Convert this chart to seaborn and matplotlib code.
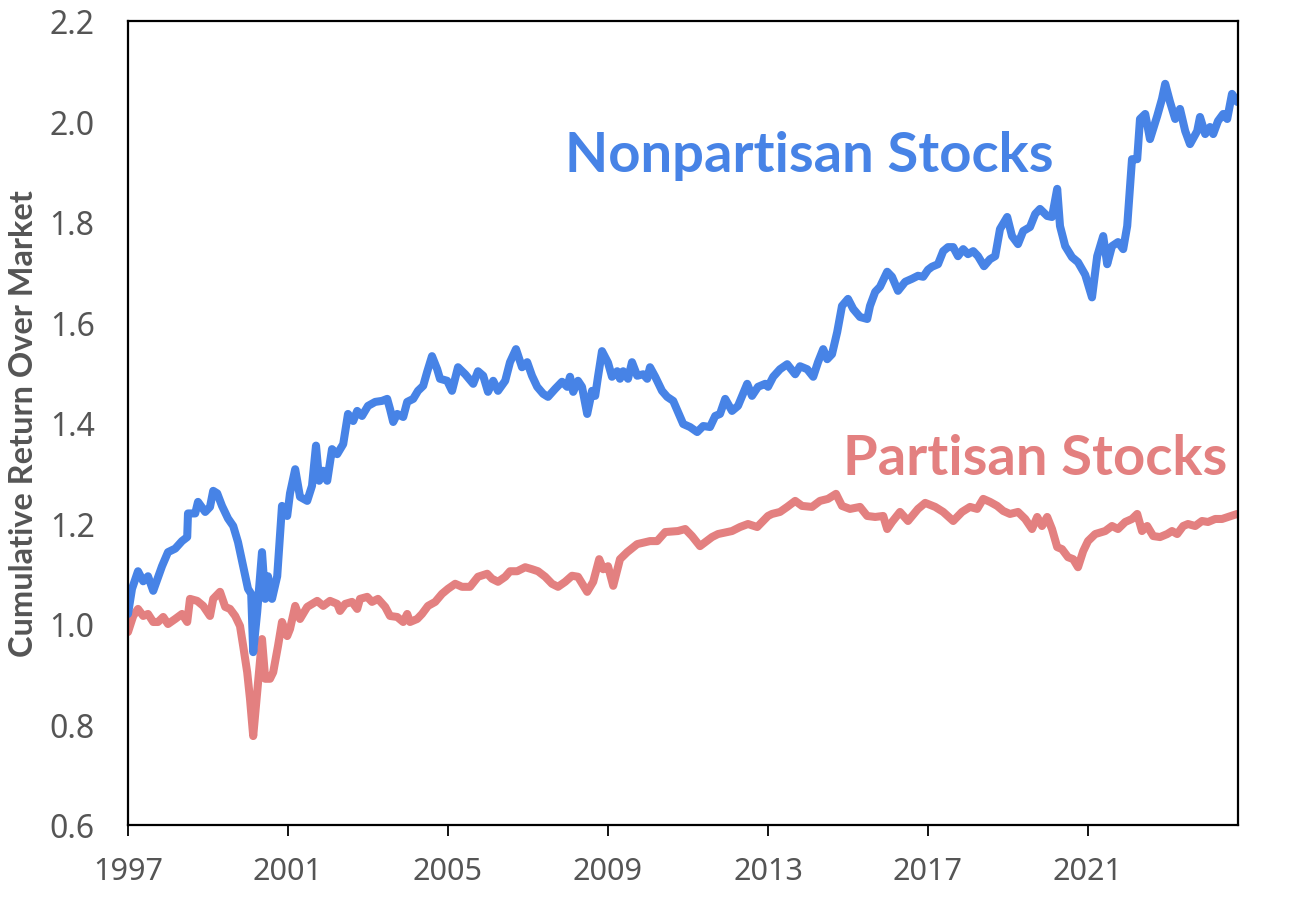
import matplotlib
matplotlib.use("Agg")
import matplotlib.pyplot as plt
import seaborn as sns
import pandas as pd

# ---- data ----
nonpartisan_years = [
    1997.00, 1997.10, 1997.25, 1997.38, 1997.50, 1997.63, 1997.85, 1998.00, 1998.18, 1998.35,
    1998.48, 1998.50, 1998.68, 1998.75, 1998.93, 1999.05, 1999.13, 1999.23, 1999.35, 1999.50,
    1999.63, 1999.75, 1999.88, 2000.00, 2000.08, 2000.13, 2000.23, 2000.35, 2000.43, 2000.50,
    2000.60, 2000.73, 2000.85, 2000.98, 2001.05, 2001.18, 2001.30, 2001.48, 2001.60, 2001.70,
    2001.78, 2001.88, 2001.98, 2002.10, 2002.23, 2002.38, 2002.50, 2002.63, 2002.73, 2002.85,
    2003.00, 2003.18, 2003.35, 2003.48, 2003.55, 2003.63, 2003.73, 2003.88, 2003.98, 2004.13,
    2004.25, 2004.38, 2004.48, 2004.60, 2004.73, 2004.80, 2004.98, 2005.10, 2005.25, 2005.43,
    2005.63, 2005.75, 2005.88, 2006.00, 2006.13, 2006.25, 2006.43, 2006.55, 2006.70, 2006.85,
    2006.98, 2007.10, 2007.23, 2007.38, 2007.50, 2007.68, 2007.85, 2007.98, 2008.05, 2008.13,
    2008.25, 2008.35, 2008.48, 2008.60, 2008.68, 2008.75, 2008.85, 2009.00, 2009.10, 2009.23,
    2009.30, 2009.38, 2009.50, 2009.60, 2009.73, 2009.88, 2009.98, 2010.05, 2010.18, 2010.35,
    2010.48, 2010.63, 2010.75, 2010.88, 2011.05, 2011.23, 2011.38, 2011.55, 2011.68, 2011.80,
    2011.93, 2012.10, 2012.25, 2012.48, 2012.60, 2012.75, 2012.93, 2013.00, 2013.13, 2013.30,
    2013.48, 2013.68, 2013.80, 2013.98, 2014.13, 2014.25, 2014.38, 2014.48, 2014.60, 2014.73,
    2014.85, 2015.00, 2015.13, 2015.30, 2015.48, 2015.55, 2015.68, 2015.80, 2015.98, 2016.10,
    2016.25, 2016.43, 2016.60, 2016.75, 2016.88, 2017.00, 2017.10, 2017.25, 2017.38, 2017.50,
    2017.63, 2017.75, 2017.88, 2018.00, 2018.13, 2018.25, 2018.40, 2018.55, 2018.68, 2018.80,
    2018.98, 2019.10, 2019.25, 2019.38, 2019.55, 2019.68, 2019.80, 2019.98, 2020.10, 2020.23,
    2020.30, 2020.43, 2020.60, 2020.75, 2020.93, 2021.10, 2021.23, 2021.38, 2021.48, 2021.60,
    2021.75, 2021.88, 2021.98, 2022.10, 2022.23, 2022.30, 2022.43, 2022.55, 2022.73, 2022.85,
    2022.93, 2023.05, 2023.18, 2023.30, 2023.43, 2023.55, 2023.73, 2023.80, 2023.93, 2024.05,
    2024.13, 2024.25, 2024.38, 2024.48, 2024.60, 2024.73,
]
nonpartisan_values = [
    1.020, 1.070, 1.105, 1.085, 1.095, 1.066, 1.115, 1.143, 1.150, 1.165,
    1.173, 1.220, 1.220, 1.243, 1.223, 1.233, 1.265, 1.260, 1.235, 1.210,
    1.195, 1.163, 1.115, 1.070, 1.060, 0.944, 1.024, 1.143, 1.050, 1.095,
    1.050, 1.095, 1.235, 1.215, 1.260, 1.308, 1.253, 1.245, 1.275, 1.355,
    1.285, 1.305, 1.285, 1.348, 1.338, 1.358, 1.418, 1.404, 1.424, 1.414,
    1.434, 1.442, 1.444, 1.448, 1.428, 1.402, 1.418, 1.412, 1.442, 1.448,
    1.464, 1.474, 1.502, 1.533, 1.507, 1.488, 1.484, 1.464, 1.511, 1.497,
    1.478, 1.503, 1.494, 1.462, 1.484, 1.464, 1.484, 1.521, 1.547, 1.511,
    1.521, 1.494, 1.472, 1.458, 1.452, 1.468, 1.482, 1.472, 1.492, 1.462,
    1.484, 1.472, 1.418, 1.464, 1.454, 1.492, 1.543, 1.520, 1.492, 1.503,
    1.488, 1.503, 1.488, 1.521, 1.494, 1.497, 1.488, 1.511, 1.492, 1.464,
    1.452, 1.444, 1.422, 1.398, 1.392, 1.382, 1.394, 1.392, 1.414, 1.418,
    1.448, 1.424, 1.434, 1.478, 1.454, 1.472, 1.478, 1.472, 1.492, 1.507,
    1.517, 1.497, 1.513, 1.507, 1.492, 1.521, 1.547, 1.527, 1.537, 1.581,
    1.633, 1.647, 1.627, 1.611, 1.607, 1.633, 1.661, 1.671, 1.701, 1.691,
    1.663, 1.681, 1.687, 1.693, 1.691, 1.705, 1.711, 1.716, 1.742, 1.750,
    1.750, 1.732, 1.746, 1.736, 1.742, 1.732, 1.712, 1.726, 1.732, 1.786,
    1.810, 1.772, 1.756, 1.782, 1.790, 1.816, 1.826, 1.812, 1.810, 1.866,
    1.792, 1.752, 1.730, 1.720, 1.695, 1.650, 1.732, 1.772, 1.716, 1.752,
    1.760, 1.746, 1.792, 1.925, 1.925, 2.005, 2.015, 1.965, 2.011, 2.045,
    2.075, 2.039, 2.005, 2.025, 1.981, 1.955, 1.981, 2.009, 1.975, 1.989,
    1.975, 2.001, 2.015, 2.005, 2.055, 2.039,
]

partisan_years = [
    1997.00, 1997.13, 1997.25, 1997.38, 1997.50, 1997.63, 1997.75, 1997.88, 1998.00, 1998.18,
    1998.35, 1998.48, 1998.55, 1998.73, 1998.88, 1999.05, 1999.13, 1999.30, 1999.43, 1999.55,
    1999.68, 1999.80, 1999.88, 1999.98, 2000.05, 2000.13, 2000.23, 2000.35, 2000.43, 2000.55,
    2000.63, 2000.75, 2000.85, 2000.98, 2001.05, 2001.18, 2001.30, 2001.48, 2001.73, 2001.88,
    2002.05, 2002.23, 2002.30, 2002.43, 2002.60, 2002.73, 2002.80, 2002.98, 2003.10, 2003.25,
    2003.43, 2003.55, 2003.73, 2003.88, 2003.98, 2004.05, 2004.23, 2004.35, 2004.50, 2004.68,
    2004.85, 2005.00, 2005.18, 2005.35, 2005.55, 2005.75, 2005.98, 2006.10, 2006.25, 2006.43,
    2006.55, 2006.73, 2006.93, 2007.10, 2007.25, 2007.43, 2007.60, 2007.75, 2007.93, 2008.10,
    2008.25, 2008.48, 2008.63, 2008.78, 2008.88, 2009.00, 2009.13, 2009.30, 2009.48, 2009.73,
    2010.05, 2010.23, 2010.43, 2010.75, 2010.93, 2011.10, 2011.30, 2011.60, 2011.75, 2012.10,
    2012.30, 2012.50, 2012.73, 2013.00, 2013.10, 2013.30, 2013.48, 2013.68, 2013.85, 2014.10,
    2014.30, 2014.50, 2014.70, 2014.85, 2015.05, 2015.30, 2015.48, 2015.68, 2015.88, 2015.98,
    2016.10, 2016.30, 2016.50, 2016.75, 2016.93, 2017.18, 2017.38, 2017.63, 2017.85, 2018.05,
    2018.23, 2018.38, 2018.55, 2018.73, 2018.88, 2019.05, 2019.25, 2019.43, 2019.60, 2019.73,
    2019.85, 2019.98, 2020.10, 2020.23, 2020.35, 2020.50, 2020.63, 2020.75, 2020.88, 2021.00,
    2021.18, 2021.43, 2021.60, 2021.75, 2021.93, 2022.10, 2022.23, 2022.35, 2022.48, 2022.63,
    2022.80, 2022.98, 2023.10, 2023.23, 2023.38, 2023.50, 2023.68, 2023.85, 2024.00, 2024.18,
    2024.35, 2024.50, 2024.73,
]
partisan_values = [
    0.984, 1.016, 1.030, 1.016, 1.020, 1.004, 1.004, 1.014, 1.000, 1.010,
    1.020, 1.004, 1.050, 1.046, 1.036, 1.016, 1.050, 1.064, 1.034, 1.030,
    1.016, 0.996, 0.956, 0.904, 0.851, 0.777, 0.865, 0.970, 0.891, 0.891,
    0.904, 0.956, 1.004, 0.976, 0.990, 1.036, 1.010, 1.034, 1.046, 1.036,
    1.046, 1.040, 1.026, 1.040, 1.044, 1.030, 1.050, 1.054, 1.044, 1.050,
    1.034, 1.016, 1.014, 1.004, 1.020, 1.004, 1.010, 1.020, 1.036, 1.044,
    1.060, 1.070, 1.080, 1.074, 1.074, 1.094, 1.100, 1.090, 1.084, 1.094,
    1.105, 1.105, 1.113, 1.109, 1.105, 1.094, 1.080, 1.074, 1.084, 1.096,
    1.094, 1.064, 1.084, 1.129, 1.109, 1.115, 1.076, 1.129, 1.143, 1.159,
    1.165, 1.165, 1.183, 1.185, 1.189, 1.175, 1.155, 1.173, 1.179, 1.185,
    1.193, 1.199, 1.193, 1.215, 1.219, 1.223, 1.233, 1.245, 1.235, 1.233,
    1.245, 1.249, 1.259, 1.235, 1.229, 1.233, 1.215, 1.213, 1.215, 1.189,
    1.203, 1.223, 1.205, 1.229, 1.241, 1.233, 1.223, 1.205, 1.223, 1.233,
    1.229, 1.249, 1.243, 1.235, 1.225, 1.219, 1.223, 1.209, 1.189, 1.213,
    1.195, 1.213, 1.189, 1.153, 1.149, 1.133, 1.129, 1.113, 1.145, 1.165,
    1.179, 1.185, 1.195, 1.189, 1.203, 1.209, 1.219, 1.185, 1.195, 1.175,
    1.173, 1.179, 1.185, 1.179, 1.195, 1.199, 1.195, 1.205, 1.203, 1.209,
    1.209, 1.213, 1.219,
]

x_ticks = [1997, 2001, 2005, 2009, 2013, 2017, 2021]
y_ticks = [0.6, 0.8, 1.0, 1.2, 1.4, 1.6, 1.8, 2.0, 2.2]
y_label = "Cumulative Return Over Market"
label_nonpartisan = "Nonpartisan Stocks"
label_partisan = "Partisan Stocks"

BLUE = "#4783E6"
RED = "#E38080"
GREY = "#555555"

sns.set_theme(style="white")
plt.rcParams["font.family"] = ["Noto Sans", "DejaVu Sans"]
BOLD_FAMILY = ["Lato", "Open Sans", "DejaVu Sans"]

df_np = pd.DataFrame({"year": nonpartisan_years, "value": nonpartisan_values})
df_p = pd.DataFrame({"year": partisan_years, "value": partisan_values})

fig = plt.figure(figsize=(12.92, 9.04), dpi=100)
ax = fig.add_axes([128 / 1292, 78 / 904, 1110 / 1292, 804 / 904])

sns.lineplot(data=df_p, x="year", y="value", ax=ax, color=RED, linewidth=5.8,
             solid_joinstyle="round", solid_capstyle="round")
sns.lineplot(data=df_np, x="year", y="value", ax=ax, color=BLUE, linewidth=5.8,
             solid_joinstyle="round", solid_capstyle="round")

ax.set_xlim(1997, 2024.75)
ax.set_ylim(0.6, 2.2)
ax.set_xticks(x_ticks)
ax.set_xticklabels([str(t) for t in x_ticks])
ax.set_yticks(y_ticks)
ax.set_yticklabels([f"{t:.1f}" for t in y_ticks])

ax.tick_params(axis="x", direction="out", length=8, width=1.3, color="black",
               labelsize=22, labelcolor=GREY, pad=14, bottom=True)
ax.tick_params(axis="y", length=0, labelsize=23, labelcolor=GREY, pad=24, left=False)

for s in ax.spines.values():
    s.set_visible(True)
    s.set_color("black")
    s.set_linewidth(1.6)

ax.set_xlabel("")
ax.set_ylabel(y_label, fontsize=23.4, fontweight="bold", color=GREY, labelpad=8,
              family=BOLD_FAMILY)

ax.text(2007.93, 1.901, label_nonpartisan, color=BLUE, fontsize=40.5, fontweight="bold",
        ha="left", va="baseline", family=BOLD_FAMILY)
ax.text(2024.475, 1.298, label_partisan, color=RED, fontsize=40.5, fontweight="bold",
        ha="right", va="baseline", family=BOLD_FAMILY)

fig.savefig("out.png", dpi=100)
